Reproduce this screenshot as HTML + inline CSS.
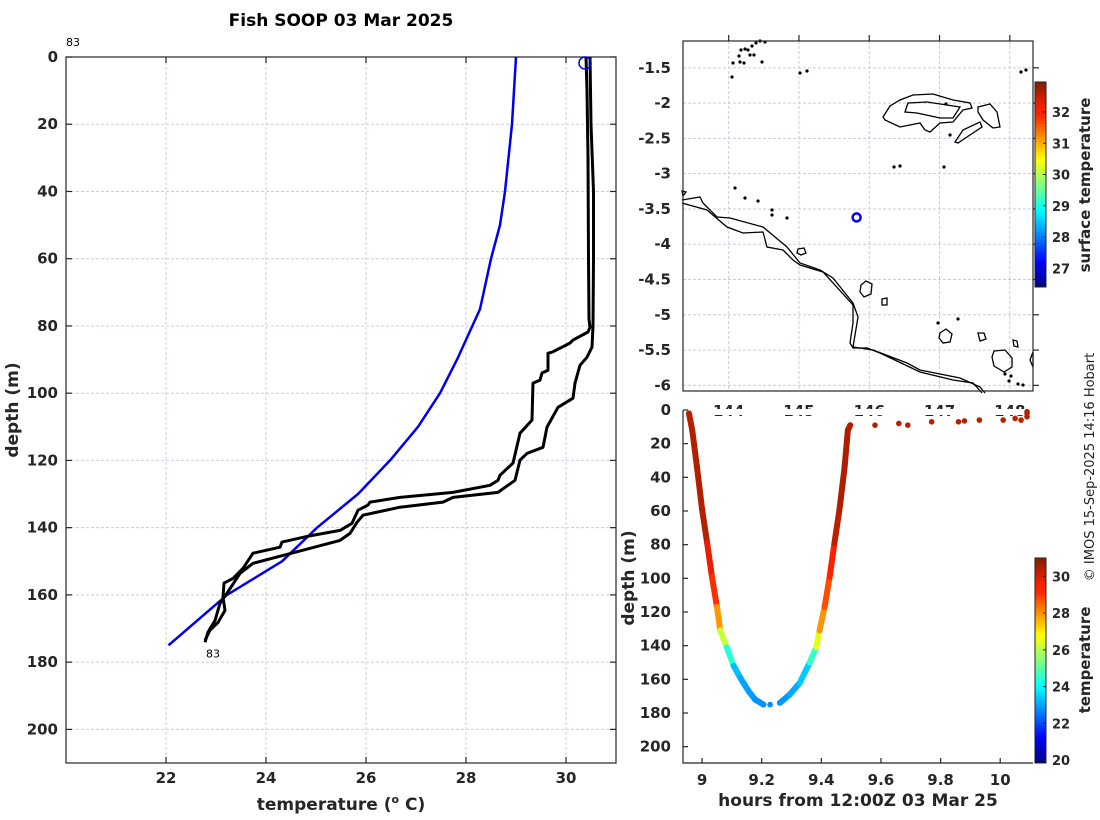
<!DOCTYPE html>
<html><head><meta charset="utf-8"><style>
html,body{margin:0;padding:0;background:#fff}
svg{display:block;font-family:"DejaVu Sans","Liberation Sans",sans-serif}
.tk{font-size:15px;font-weight:bold;fill:#262626}
.grid{stroke:#c8cce0;stroke-width:1;stroke-dasharray:3,2}
.ax{stroke:#262626;stroke-width:1.2;fill:none}
.coast{stroke:#000;stroke-width:1.3;fill:none}
</style></head><body>
<svg id="fig" width="1100" height="820" viewBox="0 0 1100 820" xmlns="http://www.w3.org/2000/svg">
<text x="341" y="26" text-anchor="middle" font-size="17" font-weight="bold" fill="#000">Fish SOOP 03 Mar 2025</text>
<g id="left"></g>
<g id="map"></g>
<g id="sect"></g>
<text transform="translate(1094,467) rotate(-90)" text-anchor="middle" font-size="13" fill="#222">© IMOS 15-Sep-2025 14:16 Hobart</text>
</svg>
<script>
// ---------- Profile panel data ----------
const xTicksT = [22, 24, 26, 28, 30];
const yTicksD = [0, 20, 40, 60, 80, 100, 120, 140, 160, 180, 200];
const climTemp = [29.0, 28.92, 28.78, 28.68, 28.5, 28.28, 27.82, 27.48, 27.04, 26.48, 25.84, 25.02, 24.32, 23.22, 22.05];
const climDepth = [0, 20, 40, 50, 60, 75, 90, 100, 110, 120, 130, 140, 150, 160, 175];
const castATemp = [30.40, 30.42, 30.44, 30.45, 30.46, 30.48, 30.44, 30.14, 30.08, 29.72, 29.64, 29.64, 29.52, 29.48, 29.34, 29.32, 29.08, 28.94, 28.68, 28.64, 28.48, 27.74, 26.68, 26.08, 26.04, 25.84, 25.72, 25.48, 24.82, 24.32, 24.28, 23.74, 23.62, 23.54, 23.34, 23.16, 23.14, 23.18, 23.04, 22.88, 22.78];
const castADepth = [0, 10, 30, 60, 78, 80.4, 81.8, 84.2, 85.1, 87.8, 88.1, 93.2, 94.0, 96.1, 97.0, 108.0, 111.9, 120.8, 124.4, 125.9, 127.4, 129.5, 131.0, 132.4, 133.3, 134.8, 138.7, 140.8, 142.6, 144.3, 145.8, 147.6, 150.3, 152.1, 155.1, 156.5, 160.7, 164.6, 168.2, 170.5, 173.5];
const castBTemp = [30.48, 30.50, 30.55, 30.55, 30.54, 30.52, 30.42, 30.28, 30.18, 30.14, 29.84, 29.62, 29.54, 29.22, 29.08, 28.98, 28.64, 27.74, 27.54, 26.68, 25.94, 25.82, 25.68, 25.48, 24.74, 23.74, 23.48, 23.22, 23.08, 22.98, 22.84, 22.78];
const castBDepth = [0, 20, 40, 60, 80, 86.3, 89.3, 91.7, 97.0, 101.5, 104.2, 110.1, 116.1, 117.9, 119.9, 125.9, 129.5, 131.0, 132.4, 133.9, 136.3, 138.4, 141.7, 143.8, 146.7, 150.6, 153.6, 159.5, 162.5, 167.6, 171.1, 174.1];

// ---------- Map data ----------
const lonTicks = [144, 145, 146, 147, 148];
const latTicks = [-1.5, -2, -2.5, -3, -3.5, -4, -4.5, -5, -5.5, -6];
const shipLon = [145.82];
const shipLat = [-3.62];
const sstTicks = [27, 28, 29, 30, 31, 32];

// ---------- Section data ----------
const hourTicks = [9, 9.2, 9.4, 9.6, 9.8, 10];
const secDepthTicks = [0, 20, 40, 60, 80, 100, 120, 140, 160, 180, 200];
const downHours = [8.956, 8.967, 8.983, 9.0, 9.017, 9.033, 9.05, 9.061, 9.083, 9.106, 9.128, 9.156, 9.178, 9.206];
const downDepth = [2, 12, 34, 59, 79, 99, 117, 131, 141, 152, 159, 167, 172, 175];
const downTemp = [30.4, 30.4, 30.45, 30.45, 30.4, 29.3, 28.9, 27.0, 25.4, 23.5, 23.1, 23.0, 22.9, 22.8];
const upHours = [9.261, 9.294, 9.328, 9.361, 9.383, 9.394, 9.411, 9.428, 9.444, 9.461, 9.478, 9.489, 9.497];
const upDepth = [174, 169, 162, 150, 141, 131, 117, 99, 79, 59, 34, 12, 9];
const upTemp = [22.8, 23.0, 23.2, 23.7, 25.5, 27.5, 28.5, 29.0, 30.2, 30.5, 30.5, 30.5, 30.5];
const bottomHours = [9.228];
const bottomDepth = [175];
const bottomTemp = [22.8];
const surfHours = [9.58, 9.66, 9.69, 9.77, 9.86, 9.88, 9.93, 10.01, 10.05, 10.07, 10.09, 10.09, 10.09];
const surfDepth = [9, 8, 9, 7, 7, 6.5, 6, 6, 5, 6, 2, 4, 1];
const surfTemp = [30.4, 30.4, 30.4, 30.4, 30.4, 30.4, 30.4, 30.4, 30.4, 30.4, 30.4, 30.4, 30.4];
const tempTicks = [20, 22, 24, 26, 28, 30];

const NS = "http://www.w3.org/2000/svg";
function mk(parent, tag, attrs, text) {
  const e = document.createElementNS(NS, tag);
  for (const k in attrs) e.setAttribute(k, attrs[k]);
  if (text !== undefined) e.textContent = text;
  parent.appendChild(e);
  return e;
}
function jet(v) {
  v = Math.max(0, Math.min(1, v));
  let r = Math.max(0, Math.min(1, 1.5 - Math.abs(4 * v - 3)));
  let g = Math.max(0, Math.min(1, 1.5 - Math.abs(4 * v - 2)));
  const b = Math.max(0, Math.min(1, 1.5 - Math.abs(4 * v - 1)));
  if (v > 0.85) { g = Math.max(g, 0.12); }
  return `rgb(${Math.round(r * 255)},${Math.round(g * 255)},${Math.round(b * 255)})`;
}

// ===== Profile panel =====
const L = document.getElementById('left');
const lx0 = 66, lx1 = 616, ly0 = 57, ly1 = 763;
const tMin = 20, tMax = 31, dMin = 0, dMax = 210;
const xT = t => lx0 + (t - tMin) / (tMax - tMin) * (lx1 - lx0);
const yD = d => ly0 + (d - dMin) / (dMax - dMin) * (ly1 - ly0);
xTicksT.forEach(t => {
  const g = mk(L, 'line', {x1: xT(t), x2: xT(t), y1: ly0, y2: ly1, class: 'grid'});
  
  
  mk(L, 'line', {x1: xT(t), x2: xT(t), y1: ly0, y2: ly0 + 6, class: 'ax'});
  mk(L, 'line', {x1: xT(t), x2: xT(t), y1: ly1, y2: ly1 - 6, class: 'ax'});
  const lb = mk(L, 'text', {x: xT(t), y: ly1 + 20, 'text-anchor': 'middle', class: 'tk'}, String(t));
  
  
});
yTicksD.forEach(d => {
  if (d > 0) {
    const g = mk(L, 'line', {x1: lx0, x2: lx1, y1: yD(d), y2: yD(d), class: 'grid'});
    
    
  }
  mk(L, 'line', {x1: lx0, x2: lx0 + 6, y1: yD(d), y2: yD(d), class: 'ax'});
  mk(L, 'line', {x1: lx1, x2: lx1 - 6, y1: yD(d), y2: yD(d), class: 'ax'});
  const lb = mk(L, 'text', {x: lx0 - 8, y: yD(d) + 5, 'text-anchor': 'end', class: 'tk'}, String(d));
  
  
});
const lbox = mk(L, 'rect', {x: lx0, y: ly0, width: lx1 - lx0, height: ly1 - ly0, class: 'ax'});


function line(parent, xs, ys, fx, fy, color, w, name) {
  const pts = xs.map((v, i) => fx(v).toFixed(1) + ',' + fy(ys[i]).toFixed(1)).join(' ');
  const p = mk(parent, 'polyline', {points: pts, fill: 'none', stroke: color, 'stroke-width': w, 'stroke-linejoin': 'round'});
  
  
}
line(L, climTemp, climDepth, xT, yD, '#0000ee', 2.5, 'climatology-line');
line(L, castATemp, castADepth, xT, yD, '#000', 3, 'profile-line-down');
line(L, castBTemp, castBDepth, xT, yD, '#000', 3, 'profile-line-up');
const sc = mk(L, 'circle', {cx: xT(castATemp[0]) - 1, cy: yD(castADepth[0]) + 6, r: 6, fill: 'none', stroke: '#0000ee', 'stroke-width': 1.5});


mk(L, 'text', {x: 66, y: 46, 'font-size': 11, fill: '#000'}, '83');
mk(L, 'text', {x: xT(castATemp[castATemp.length - 1]) + 1, y: yD(castADepth[castADepth.length - 1]) + 17, 'font-size': 11, fill: '#000'}, '83');
const xl = mk(L, 'text', {x: 341, y: 810, 'text-anchor': 'middle', 'font-size': 17, 'font-weight': 'bold', fill: '#262626'});
xl.innerHTML = 'temperature (<tspan font-size="11" dy="-7">o</tspan><tspan dy="7"> C)</tspan>';


const yl = mk(L, 'text', {transform: 'translate(18,410) rotate(-90)', 'text-anchor': 'middle', 'font-size': 17, 'font-weight': 'bold', fill: '#262626'}, 'depth (m)');



// ===== Map panel =====
const M = document.getElementById('map');
const mx0 = 683, mx1 = 1033, my0 = 41, my1 = 391;
const lonMin = 143.35, lonMax = 148.33, latMax = -1.12, latMin = -6.08;
const xL = lo => mx0 + (lo - lonMin) / (lonMax - lonMin) * (mx1 - mx0);
const yL = la => my0 + (latMax - la) / (latMax - latMin) * (my1 - my0);
lonTicks.forEach(lo => {
  mk(M, 'line', {x1: xL(lo), x2: xL(lo), y1: my0, y2: my1, class: 'grid'});
  mk(M, 'line', {x1: xL(lo), x2: xL(lo), y1: my0, y2: my0 - 6, class: 'ax'});
  const lb = mk(M, 'text', {x: xL(lo), y: my1 + 25, 'text-anchor': 'middle', class: 'tk'}, String(lo));
  
  
});
latTicks.forEach(la => {
  mk(M, 'line', {x1: mx0, x2: mx1, y1: yL(la), y2: yL(la), class: 'grid'});
  mk(M, 'line', {x1: mx1, x2: mx1 + 6, y1: yL(la), y2: yL(la), class: 'ax'});
  const lb = mk(M, 'text', {x: mx0 - 12, y: yL(la) + 5, 'text-anchor': 'end', class: 'tk'}, String(la));
  
  
});
// basemap coastlines (static background)
const coasts = [
  "682,200 700,197 703,203 717,217 730,218 763,227 787,247 800,263 820,270 833,278 853,303 858,317 853,347 873,350 907,363 920,370 960,378 980,387 985,393",
  "682,203 707,210 727,227 743,233 763,232 767,247 783,250 793,260 800,265 823,272 853,305 853,323 850,343 853,348 867,348 880,353 920,372 953,380 973,383 982,393"
];
coasts.forEach(c => { const p = mk(M, 'polyline', {points: c, class: 'coast'});  });
const islands = [
  "883,117 890,106 900,100 913,95 933,94 953,100 970,103 972,108 963,110 953,122 940,123 930,132 925,130 920,123 900,127 885,120",
  "905,112 908,103 927,102 960,107 953,118 940,118 917,113",
  "978,107 990,104 997,112 1000,127 993,128 983,120 978,112",
  "955,142 963,130 980,122 982,127 967,137 958,143",
  "861,285 866,281 872,284 871,294 864,297 860,292",
  "882,299 887,298 887,305 882,305",
  "940,333 946,329 952,334 950,342 943,343 939,338",
  "978,333 984,333 986,339 980,341",
  "1013,340 1017,341 1018,347 1014,346",
  "994,351 1005,350 1012,358 1012,367 1004,372 994,366 992,357",
  "1033,352 1030,360 1033,367",
  "798,249 804,248 806,253 801,255 797,253",
  "682,191 686,192 683,196"
];
islands.forEach(c => { const p = mk(M, 'polygon', {points: c, class: 'coast'});  });
const dots = [[741,50],[745,49],[748,50],[752,46],[756,43],[760,41],[765,42],[739,56],[750,55],[754,55],[733,63],[740,62],[744,63],[762,62],[732,77],[800,73],[807,71],[735,188],[745,198],[758,201],[772,210],[772,215],[787,218],[894,167],[900,166],[944,167],[950,135],[938,323],[1005,374],[1011,376],[1018,384],[1023,385],[1009,381],[958,319],[946,104],[1021,72],[1026,70]];
dots.forEach(d => { mk(M, 'circle', {cx: d[0], cy: d[1], r: 1.6, fill: '#000'}); });
const mbox = mk(M, 'rect', {x: mx0, y: my0, width: mx1 - mx0, height: my1 - my0, class: 'ax'});


shipLon.forEach((lo, i) => {
  const c = mk(M, 'circle', {cx: xL(lo), cy: yL(shipLat[i]), r: 4, fill: 'none', stroke: '#0000ff', 'stroke-width': 2.5});
  
  
});
// SST colorbar
const sMin = 26.4, sMax = 32.96, cb1y0 = 82, cb1y1 = 287, cbx = 1035, cbw = 11;
const yS = v => cb1y1 - (v - sMin) / (sMax - sMin) * (cb1y1 - cb1y0);
const cb1 = mk(M, 'g', {});


for (let i = 0; i < 64; i++) {
  const h = (cb1y1 - cb1y0) / 64;
  mk(cb1, 'rect', {x: cbx, y: cb1y1 - (i + 1) * h, width: cbw, height: h + 0.5, fill: jet((i + 0.5) / 64)});
}
mk(cb1, 'rect', {x: cbx, y: cb1y0, width: cbw, height: cb1y1 - cb1y0, fill: 'none', stroke: '#222', 'stroke-width': 1});
sstTicks.forEach(v => {
  mk(cb1, 'line', {x1: cbx + cbw, x2: cbx + cbw - 3, y1: yS(v), y2: yS(v), stroke: '#222'});
  mk(cb1, 'text', {x: cbx + 17, y: yS(v) + 5, class: 'tk', style: 'font-size:13px'}, String(v));
});
const st = mk(M, 'text', {transform: 'translate(1090,185) rotate(-90)', 'text-anchor': 'middle', 'font-size': 15, 'font-weight': 'bold', fill: '#262626'}, 'surface temperature');



// ===== Section panel =====
const S = document.getElementById('sect');
const sx0 = 683, sx1 = 1033, sy0 = 410, sy1 = 763;
mk(S, 'rect', {x: sx0 - 1, y: sy0 - 1, width: sx1 - sx0 + 2, height: 6, fill: '#fff'});
const hMin = 8.936, hMax = 10.11, sdMax = 209.7;
const xH = h => sx0 + (h - hMin) / (hMax - hMin) * (sx1 - sx0);
const yS2 = d => sy0 + d / sdMax * (sy1 - sy0);
mk(S, 'polyline', {points: `${sx0},${sy0} ${sx0},${sy1} ${sx1},${sy1}`, class: 'ax'});
hourTicks.forEach(h => {
  mk(S, 'line', {x1: xH(h), x2: xH(h), y1: sy1, y2: sy1 - 5, class: 'ax'});
  const lb = mk(S, 'text', {x: xH(h), y: sy1 + 22, 'text-anchor': 'middle', class: 'tk'}, String(h));
  
  
});
secDepthTicks.forEach(d => {
  mk(S, 'line', {x1: sx0, x2: sx0 + 5, y1: yS2(d), y2: yS2(d), class: 'ax'});
  const lb = mk(S, 'text', {x: sx0 - 12, y: yS2(d) + 5, 'text-anchor': 'end', class: 'tk'}, String(d));
  
  
});
const tcMin = 19.84, tcMax = 31.0;
const cN = v => (v - tcMin) / (tcMax - tcMin);
function castSegs(hs, ds, ts, name) {
  const g = mk(S, 'g', {});
  
  
  for (let i = 0; i < hs.length - 1; i++) {
    const l = mk(g, 'line', {x1: xH(hs[i]), y1: yS2(ds[i]), x2: xH(hs[i + 1]), y2: yS2(ds[i + 1]), stroke: jet(cN((ts[i] + ts[i + 1]) / 2)), 'stroke-width': 6, 'stroke-linecap': 'round'});
    
  }
}
castSegs(downHours, downDepth, downTemp, 'downcast-series');
castSegs(upHours, upDepth, upTemp, 'upcast-series');
function pts(hs, ds, ts, name) {
  hs.forEach((h, i) => {
    const c = mk(S, 'circle', {cx: xH(h), cy: yS2(ds[i]), r: 2.8, fill: jet(cN(ts[i]))});
    
    
  });
}
pts(bottomHours, bottomDepth, bottomTemp, 'bottom-point');
pts(surfHours, surfDepth, surfTemp, 'surface-point');
const cb2y0 = 558, cb2y1 = 763;
const yC = v => cb2y1 - (v - tcMin) / (tcMax - tcMin) * (cb2y1 - cb2y0);
const cb2 = mk(S, 'g', {});


for (let i = 0; i < 64; i++) {
  const h = (cb2y1 - cb2y0) / 64;
  mk(cb2, 'rect', {x: cbx, y: cb2y1 - (i + 1) * h, width: cbw, height: h + 0.5, fill: jet((i + 0.5) / 64)});
}
mk(cb2, 'rect', {x: cbx, y: cb2y0, width: cbw, height: cb2y1 - cb2y0, fill: 'none', stroke: '#222', 'stroke-width': 1});
tempTicks.forEach(v => {
  mk(cb2, 'line', {x1: cbx + cbw, x2: cbx + cbw - 3, y1: yC(v), y2: yC(v), stroke: '#222'});
  mk(cb2, 'text', {x: cbx + 17, y: yC(v) + 5, class: 'tk', style: 'font-size:13px'}, String(v));
});
const tt = mk(S, 'text', {transform: 'translate(1090,660) rotate(-90)', 'text-anchor': 'middle', 'font-size': 15, 'font-weight': 'bold', fill: '#262626'}, 'temperature');


const hx = mk(S, 'text', {x: 858, y: 806, 'text-anchor': 'middle', 'font-size': 17, 'font-weight': 'bold', fill: '#262626'}, 'hours from 12:00Z 03 Mar 25');


const hy = mk(S, 'text', {transform: 'translate(634,578) rotate(-90)', 'text-anchor': 'middle', 'font-size': 17, 'font-weight': 'bold', fill: '#262626'}, 'depth (m)');


</script>
</body></html>
